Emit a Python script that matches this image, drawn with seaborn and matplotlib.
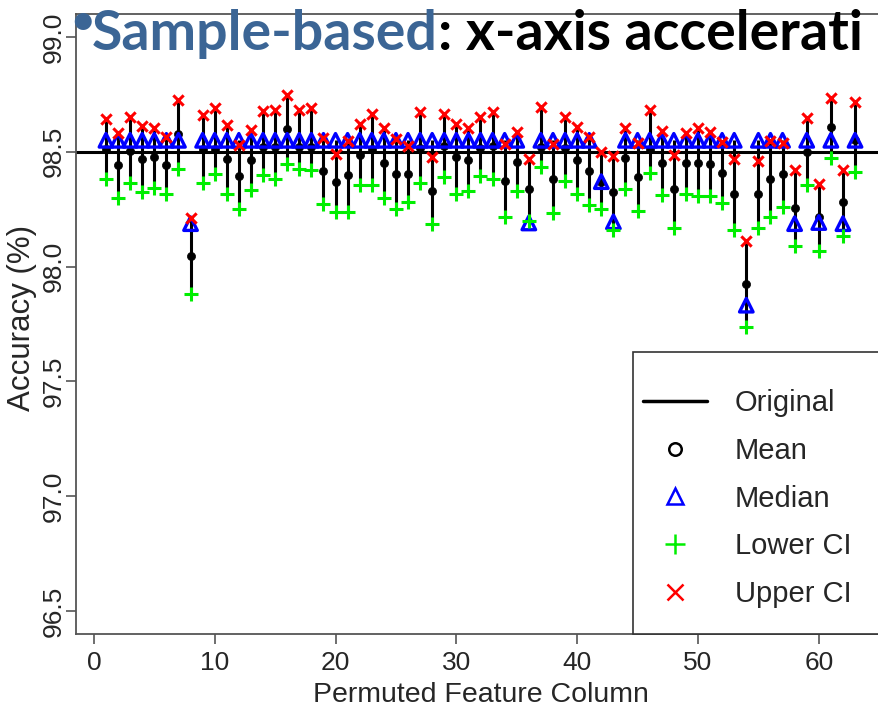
import numpy as np
import pandas as pd
import matplotlib
matplotlib.use("Agg")
import matplotlib.pyplot as plt
from matplotlib.lines import Line2D
from matplotlib.patches import Rectangle
import seaborn as sns

# ---------------- data ----------------
columns = list(range(1, 64))

upper_ci = [98.643, 98.581, 98.650, 98.614, 98.605, 98.563, 98.725, 98.213, 98.660, 98.689,
            98.617, 98.530, 98.595, 98.679, 98.682, 98.746, 98.682, 98.689, 98.562, 98.491,
            98.548, 98.621, 98.664, 98.605, 98.555, 98.526, 98.674, 98.476, 98.664, 98.621,
            98.605, 98.653, 98.674, 98.533, 98.588, 98.470, 98.693, 98.535, 98.650, 98.610,
            98.566, 98.497, 98.480, 98.602, 98.540, 98.682, 98.592, 98.487, 98.581, 98.602,
            98.588, 98.542, 98.470, 98.112, 98.458, 98.548, 98.537, 98.422, 98.648, 98.360,
            98.736, 98.422, 98.715]

median_acc = [98.55, 98.55, 98.55, 98.55, 98.55, 98.55, 98.55, 98.187, 98.55, 98.55,
              98.55, 98.55, 98.55, 98.55, 98.55, 98.55, 98.55, 98.55, 98.55, 98.55,
              98.55, 98.55, 98.55, 98.55, 98.55, 98.55, 98.55, 98.55, 98.55, 98.55,
              98.55, 98.55, 98.55, 98.55, 98.55, 98.190, 98.55, 98.55, 98.55, 98.55,
              98.55, 98.370, 98.195, 98.55, 98.55, 98.55, 98.55, 98.55, 98.55, 98.55,
              98.55, 98.55, 98.55, 97.832, 98.55, 98.55, 98.55, 98.187, 98.55, 98.192,
              98.55, 98.187, 98.55]

mean_acc = [98.513, 98.441, 98.504, 98.470, 98.476, 98.441, 98.578, 98.048, 98.513, 98.512,
            98.470, 98.393, 98.465, 98.520, 98.520, 98.598, 98.520, 98.520, 98.418, 98.367,
            98.398, 98.487, 98.513, 98.451, 98.403, 98.403, 98.516, 98.331, 98.526, 98.476,
            98.463, 98.516, 98.526, 98.372, 98.455, 98.340, 98.520, 98.383, 98.516, 98.463,
            98.418, 98.370, 98.324, 98.473, 98.391, 98.510, 98.451, 98.336, 98.451, 98.451,
            98.448, 98.408, 98.318, 97.925, 98.318, 98.382, 98.403, 98.257, 98.499, 98.216,
            98.607, 98.281, 98.550]

lower_ci = [98.382, 98.297, 98.362, 98.325, 98.343, 98.318, 98.427, 97.879, 98.362, 98.405,
            98.318, 98.252, 98.333, 98.398, 98.382, 98.448, 98.427, 98.422, 98.271, 98.239,
            98.239, 98.355, 98.355, 98.300, 98.252, 98.282, 98.362, 98.187, 98.389, 98.318,
            98.329, 98.393, 98.382, 98.216, 98.329, 98.199, 98.434, 98.232, 98.372, 98.314,
            98.268, 98.249, 98.160, 98.340, 98.242, 98.408, 98.311, 98.170, 98.318, 98.307,
            98.307, 98.278, 98.160, 97.738, 98.167, 98.218, 98.259, 98.088, 98.355, 98.069,
            98.473, 98.134, 98.412]

original_acc = 98.5

x_ticks = [0, 10, 20, 30, 40, 50, 60]
y_ticks = [96.5, 97.0, 97.5, 98.0, 98.5, 99.0]
legend_labels = ["Original", "Mean", "Median", "Lower CI", "Upper CI"]

df = pd.DataFrame({"col": columns, "upper": upper_ci, "median": median_acc,
                   "mean": mean_acc, "lower": lower_ci})

# ---------------- style ----------------
sns.set_style("ticks")
REG = ["Liberation Sans", "DejaVu Sans"]
plt.rcParams["font.family"] = REG

W, H = 879, 716
fig = plt.figure(figsize=(W / 100, H / 100), dpi=100)
ax_l, ax_r, ax_t, ax_b = 76, 885, 14, 634
ax = fig.add_axes([ax_l / W, (H - ax_b) / H, (ax_r - ax_l) / W, (ax_b - ax_t) / H])

def fx(px):
    return (px - ax_l) / (ax_r - ax_l)

def fy(py):
    return (ax_b - py) / (ax_b - ax_t)

# segments from lowest to highest statistic
seg_top = np.maximum(df["upper"], df["median"])
seg_bot = np.minimum(df["lower"], df["median"])
ax.vlines(df["col"], seg_bot, seg_top, color="black", lw=2.2, zorder=2)
ax.axhline(original_acc, color="black", lw=2.2, zorder=1)

sns.scatterplot(data=df, x="col", y="mean", ax=ax, marker="o", s=34,
                color="black", edgecolor="black", linewidth=0.5, zorder=3)
sns.scatterplot(data=df, x="col", y="median", ax=ax, marker="^", s=95,
                color="#0000FF", edgecolor="#0000FF", linewidth=2.4, zorder=4)
ax.collections[-1].set_facecolor("none")
sns.scatterplot(data=df, x="col", y="lower", ax=ax, marker="+", s=110,
                color="#00EE00", linewidth=2.2, zorder=5)
sns.scatterplot(data=df, x="col", y="upper", ax=ax, marker="x", s=55,
                color="#FF0000", linewidth=2.2, zorder=6)

ax.set_xlim(-1.48, 65.48)
ax.set_ylim(96.4, 99.1)
ax.set_xticks(x_ticks)
ax.set_xticklabels([str(v) for v in x_ticks], fontsize=19)
ax.set_yticks(y_ticks)
ax.set_yticklabels([f"{v:.1f}" for v in y_ticks], rotation=90, va="center", fontsize=19)
ax.tick_params(axis="both", direction="out", length=7, width=1.2, color="#555555")
ax.tick_params(axis="x", pad=5)
ax.tick_params(axis="y", pad=0.5)
for side in ["left", "bottom", "top"]:
    ax.spines[side].set_color("#555555")
    ax.spines[side].set_linewidth(1.3)
ax.spines["right"].set_visible(False)

ax.set_xlabel("Permuted Feature Column", fontsize=20.5, labelpad=5)
ax.set_ylabel("Accuracy (%)", fontsize=22.5, va="center")
ax.yaxis.set_label_coords(fx(22), 0.51)

# legend box (R style, anchored bottom-right, running past the crop)
box = Rectangle((fx(633), 0), 0.4, fy(352), transform=ax.transAxes,
                facecolor="white", edgecolor="#333333", lw=1.2,
                clip_on=False, zorder=7)
ax.add_patch(box)

handles = [
    Line2D([], [], color="black", lw=2.5),
    Line2D([], [], ls="none", marker="o", ms=9, mfc="none", mec="black", mew=1.8),
    Line2D([], [], ls="none", marker="^", ms=12, mfc="none", mec="#0000FF", mew=1.8),
    Line2D([], [], ls="none", marker="+", ms=15, mec="#00EE00", mew=1.8),
    Line2D([], [], ls="none", marker="x", ms=11, mec="#FF0000", mew=1.8),
]
leg = ax.legend(handles, legend_labels, loc="upper left",
                bbox_to_anchor=(fx(643), fy(389)), borderaxespad=0, borderpad=0,
                frameon=False, prop={"size": 21}, handlelength=2.2,
                handletextpad=0.95, labelspacing=0.68)
leg.set_zorder(8)

# slide title overlay
TITLE_FONT = ["Lato", "Open Sans", "DejaVu Sans"]
blue = "#3B6595"
fig.text(83 / W, 1 - 22 / H, "\u2022", color=blue, fontsize=28, fontfamily=TITLE_FONT,
         fontweight="bold", ha="center", va="center")
t2 = fig.text(92 / W, 1 - 50 / H, "Sample-based", color=blue, fontsize=40,
              fontfamily=TITLE_FONT, fontweight="bold", ha="left", va="baseline")
fig.canvas.draw()
bb = t2.get_window_extent()
fig.text(bb.x1 / W, 1 - 50 / H, ": x-axis accelerati", color="black", fontsize=40,
         fontfamily=TITLE_FONT, fontweight="bold", ha="left", va="baseline")

fig.savefig("out.png", dpi=100)
